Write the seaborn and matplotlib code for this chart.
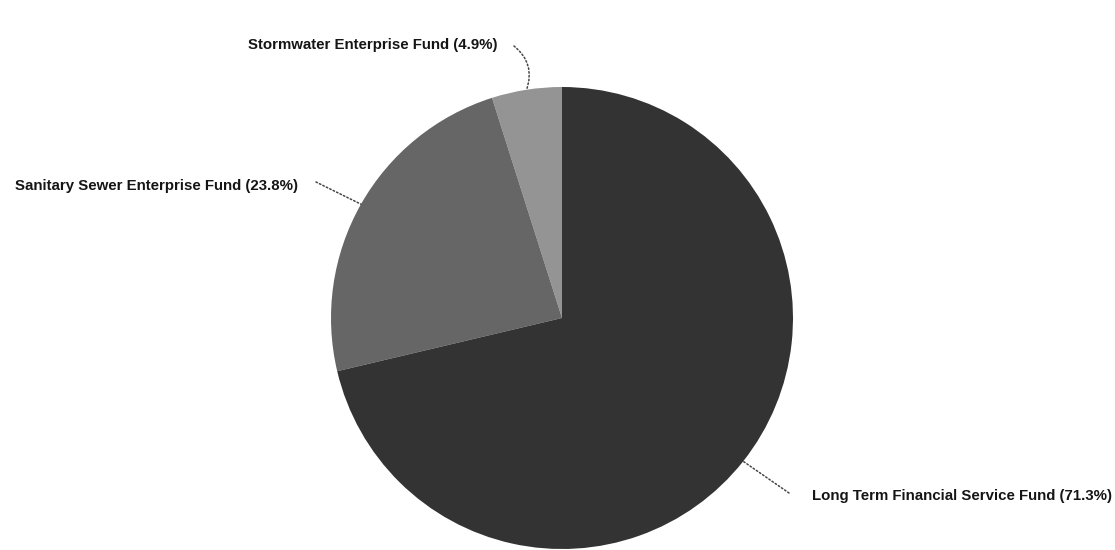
import numpy as np
import matplotlib
matplotlib.use("Agg")
import matplotlib.pyplot as plt
import seaborn as sns

# data
funds = ["Stormwater Enterprise Fund", "Sanitary Sewer Enterprise Fund",
         "Long Term Financial Service Fund"]
shares = [4.9, 23.8, 71.3]
colors = ["#949494", "#666666", "#333333"]

sns.set_theme(style="white")
plt.rcParams['font.family'] = ['Liberation Sans', 'DejaVu Sans']

W, H = 1115, 550
fig = plt.figure(figsize=(W / 100, H / 100), dpi=100)
fig.patch.set_facecolor("white")

# pie centre (562, 318) px, radius 231 px
cx, cy, r = 562, 318, 231
ax = fig.add_axes([(cx - r) / W, (H - cy - r) / H, 2 * r / W, 2 * r / H])
wedges, _ = ax.pie(shares, colors=colors, startangle=90, counterclock=True,
                   radius=1.0, wedgeprops=dict(linewidth=0))
ax.set_xlim(-1, 1)
ax.set_ylim(-1, 1)
ax.set_aspect("equal")
ax.axis("off")

def fig_px(x, y):
    return x / W, 1 - y / H

# label anchor (px), alignment, leader start (px), leader curvature
label_pos = [((497, 45), "right", (514, 46), -0.35),
             ((298, 186), "right", (316, 182), 0.0),
             ((812, 496), "left", (789, 493), 0.0)]

for w, name, pct, (txt, ha, start, rad) in zip(wedges, funds, shares, label_pos):
    mid = np.deg2rad((w.theta1 + w.theta2) / 2)
    ex, ey = np.cos(mid), np.sin(mid)
    fig.text(*fig_px(*txt), f"{name} ({pct}%)", ha=ha, va="center",
             fontsize=10.8, fontweight="bold", color="#151515")
    ax.annotate("", xy=(ex, ey), xycoords="data",
                xytext=fig_px(*start), textcoords="figure fraction",
                arrowprops=dict(arrowstyle="-", color="#444444", lw=1.1,
                                linestyle=(0, (1, 1.5)),
                                shrinkA=0, shrinkB=0,
                                connectionstyle=f"arc3,rad={rad}"),
                annotation_clip=False)

fig.savefig("out.png", dpi=100, facecolor="white")
